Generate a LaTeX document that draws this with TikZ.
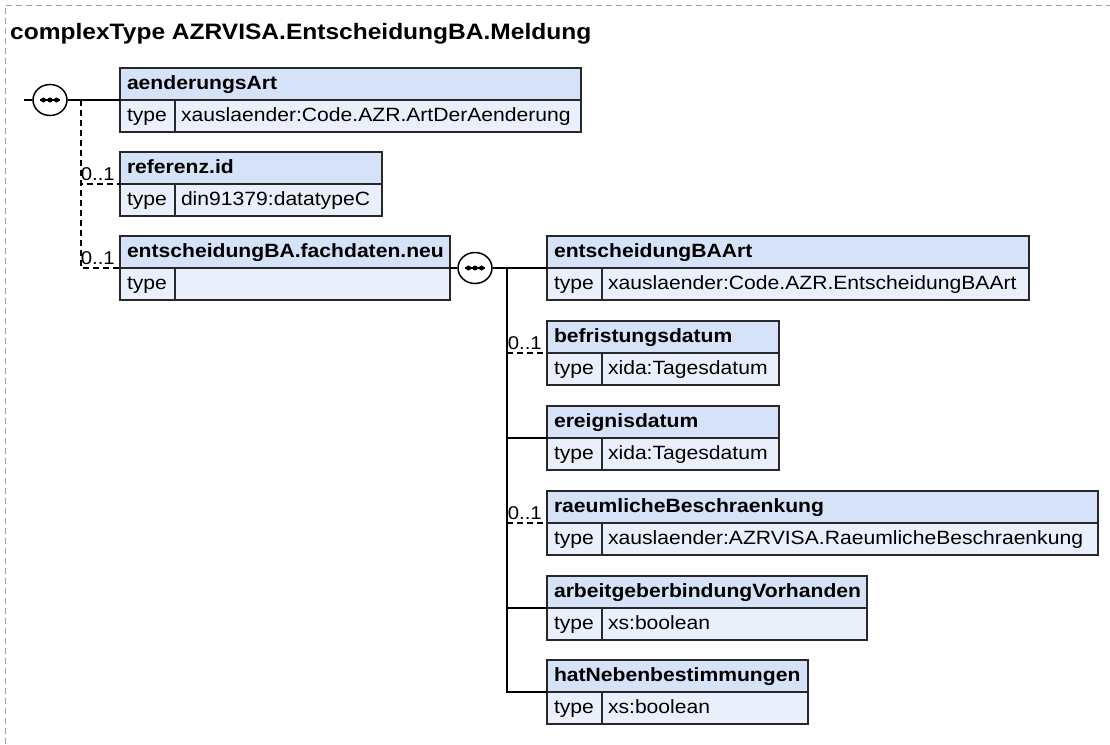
\documentclass[tikz,border=0pt]{standalone}
\definecolor{xsdhead} {RGB}{214,226,247}
\definecolor{xsdrow}  {RGB}{234,240,251}
\definecolor{xsdline} {RGB}{40,40,40}
\definecolor{xsdframe}{RGB}{160,160,160}
\usepackage{fontspec}
\setmainfont{Liberation Sans}[FakeStretch=1.1]
\usepackage{tikz}
\usetikzlibrary{positioning,shapes.geometric}
\tikzset{
  hdr/.style={rectangle,draw=xsdline,fill=xsdhead,line width=1.6pt,
              minimum height=32pt,inner xsep=7pt,inner ysep=0pt,outer sep=0pt,
              text height=14pt,text depth=4pt,align=left,
              font=\fontsize{19.2}{23}\selectfont\bfseries},
  cell/.style={rectangle,draw=xsdline,fill=xsdrow,line width=1.6pt,
              minimum height=32pt,inner xsep=6pt,inner ysep=0pt,outer sep=0pt,
              text height=14pt,text depth=4pt,align=left,
              font=\fontsize{19.2}{23}\selectfont},
  seq/.style={ellipse,draw=black,fill=white,line width=1.5pt,
              minimum width=34pt,minimum height=31pt,inner sep=0pt},
  con/.style={line width=1.5pt,black},
  opt/.style={con,dash pattern=on 6pt off 4pt},
  mult/.style={inner sep=0pt,font=\fontsize{18.5}{20}\selectfont},
  ttl/.style={inner sep=0pt,font=\fontsize{22.3}{26}\selectfont\bfseries},
  frame/.style={xsdframe,line width=1pt,dash pattern=on 6pt off 4pt},
}
% three dots of a sequence compositor
\newcommand{\seqdots}[1]{%
  \draw[black,line width=1.5pt] ([xshift=-10pt]#1.center) -- ([xshift=10pt]#1.center);
  \foreach \d in {-6.5,0,6.5}
    \fill[black] ([xshift=\d pt]#1.center) circle (2.5pt);
}
\begin{document}
\begin{tikzpicture}[x=1pt,y=-1pt]
  \useasboundingbox (0,0) rectangle (1110,744);
  \draw[frame] (5,744) -- (5,5) -- (1110,5);
  \node[ttl,anchor=base west] (title) at (10,39)
       {complexType AZRVISA.EntscheidungBA.Meldung};

  % element boxes: name row, then type row
  \foreach \id/\x/\y/\w/\nm/\ty in {
    l1/120/100/461/aenderungsArt/{xauslaender:Code.AZR.ArtDerAenderung},
    l2/120/184/262/referenz.id/{din91379:datatypeC},
    l3/120/268/330/entscheidungBA.fachdaten.neu/{},
    r1/547/268/482/entscheidungBAArt/{xauslaender:Code.AZR.EntscheidungBAArt},
    r2/547/353/232/befristungsdatum/{xida:Tagesdatum},
    r3/547/438/232/ereignisdatum/{xida:Tagesdatum},
    r4/547/523/551/raeumlicheBeschraenkung/{xauslaender:AZRVISA.RaeumlicheBeschraenkung},
    r5/547/608/320/arbeitgeberbindungVorhanden/{xs:boolean},
    r6/547/692/261/hatNebenbestimmungen/{xs:boolean}}{
    \pgfmathsetmacro\hw{\w-14}
    \pgfmathsetmacro\vw{\w-55-12}
    \node[hdr,text width=\hw pt,anchor=south west] (\id) at (\x,\y) {\nm};
    \node[cell,inner xsep=7pt,text width=41pt,anchor=north west]
         (\id-t) at (\id.south west) {type};
    \node[cell,text width=\vw pt,anchor=north west]
         (\id-v) at (\id-t.north east) {\ty};
  }

  % sequence compositors
  \node[seq] (s1) at (50,100) {};
  \node[seq] (s2) at (475,268) {};
  \seqdots{s1}
  \seqdots{s2}
  \coordinate (in1) at (24,100);
  \coordinate (j1) at (81,100);
  \coordinate (j2) at (507,268);

  \draw[con] (in1) -- (s1.west);
  \draw[con] (s1.east) -- (l1.south west);
  \draw[opt] (j1) |- (l2.south west);
  \draw[opt] (j1) |- (l3.south west);
  \draw[con] (l3.south east) -- (s2.west);
  \draw[con] (s2.east) -- (r1.south west);
  \draw[con] (j2) |- (r6.south west);
  \draw[opt] (j2 |- r2.south west) -- (r2.south west);
  \draw[con] (j2 |- r3.south west) -- (r3.south west);
  \draw[opt] (j2 |- r4.south west) -- (r4.south west);
  \draw[con] (j2 |- r5.south west) -- (r5.south west);

  \foreach \id in {l2,l3,r2,r4}
    \node[mult,anchor=base east] (m-\id)
         at ([xshift=-5pt,yshift=4pt]\id.south west) {0..1};
\end{tikzpicture}
\end{document}
